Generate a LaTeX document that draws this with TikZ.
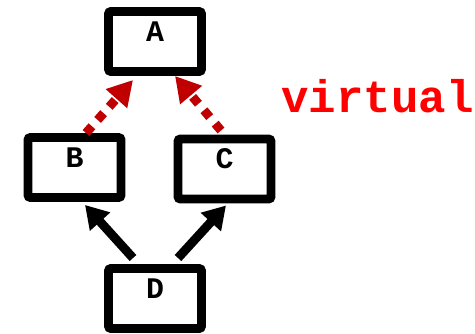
\documentclass[tikz,border=0pt]{standalone}
\usepackage{fontspec}
\setmonofont{Liberation Mono}
\usepackage{tikz}
\usetikzlibrary{arrows.meta, calc}
\definecolor{virtred}{RGB}{192,0,0}

\begin{document}
\begin{tikzpicture}[
  box/.style={draw=black, line width=5.1pt, rounded corners=1.5pt,
              minimum width=1.86cm, minimum height=1.2cm,
              text height=0.3cm, text depth=0.3cm,
              font=\ttfamily\bfseries\fontsize{17}{20}\selectfont},
  arr/.style={-{Triangle[length=0.45cm, width=0.52cm]}, line width=5.1pt, black},
  virt/.style={-{Triangle[length=0.5cm, width=0.54cm]}, line width=5.1pt, virtred,
               dash pattern=on 0.18cm off 0.17cm}
]
  \useasboundingbox (0,0) rectangle (9.5,-6.68);
  %% Boxes
  \node[box] (a) at (3.1,-0.83)  {A};
  \node[box] (b) at (1.49,-3.35) {B};
  \node[box] (c) at (4.49,-3.38) {C};
  \node[box] (d) at (3.1,-5.97)  {D};

  %% Plain inheritance (black)
  \draw[arr] ([shift={(-0.44,0.12)}]d.north) -- ([shift={(0.21,-0.06)}]b.south);
  \draw[arr] ([shift={(0.46,0.12)}]d.north)  -- ([shift={(0.03,-0.04)}]c.south);
  %% Virtual inheritance (red, dotted)
  \draw[virt] ([shift={(0.23,0)}]b.north)     -- ([shift={(-0.44,-0.08)}]a.south);
  \draw[virt] ([shift={(-0.07,0.08)}]c.north) -- ([shift={(0.4,0)}]a.south);

  \node[anchor=base, text=red, font=\ttfamily\bfseries\fontsize{26}{30}\selectfont]
    (virtual) at (7.55,-2.25) {virtual};
\end{tikzpicture}
\end{document}
